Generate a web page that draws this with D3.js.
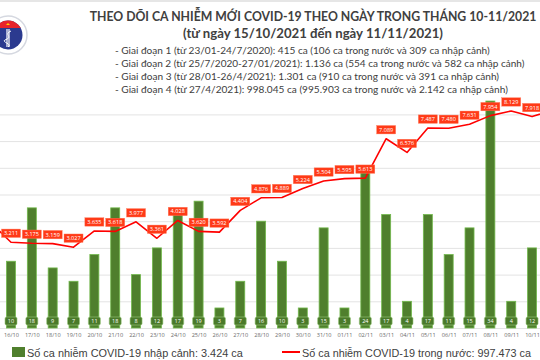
<!DOCTYPE html>
<html><head><meta charset="utf-8">
<script src="https://cdn.jsdelivr.net/npm/d3@7"></script>
<style>html,body{margin:0;padding:0;background:#fff;overflow:hidden}svg{display:block}</style>
</head><body>
<svg id="c" width="540" height="360"></svg>
<script>
const dates = ["15/10","16/10","17/10","18/10","19/10","20/10","21/10","22/10","23/10","24/10","25/10","26/10","27/10","28/10","29/10","30/10","31/10","01/11","02/11","03/11","04/11","05/11","06/11","07/11","08/11","09/11","10/11","11/11"];
const domestic = [3960,3211,3175,3159,3027,3635,3618,3977,3361,4028,3620,3592,4404,4876,4889,5224,5504,5595,5613,7089,6576,7487,7480,7631,7954,8129,7918,8162];
const imported = [null,10,18,9,7,11,18,8,12,17,19,3,7,16,10,3,15,3,24,17,4,17,11,15,34,4,12,null];
const gridValues = [0,1000,2000,3000,4000,5000,6000,7000,8000];
const titleText = "THEO DÕI CA NHIỄM MỚI COVID-19 THEO NGÀY TRONG THÁNG 10-11/2021";
const subtitleText = "(từ ngày 15/10/2021 đến ngày 11/11/2021)";
const notes = [
  "- Giai đoạn 1 (từ 23/01-24/7/2020): 415 ca (106 ca trong nước và 309 ca nhập cảnh)",
  "- Giai đoạn 2 (từ 25/7/2020-27/01/2021): 1.136 ca (554 ca trong nước và 582 ca nhập cảnh)",
  "- Giai đoạn 3 (từ 28/01-26/4/2021): 1.301 ca (910 ca trong nước và 391 ca nhập cảnh)",
  "- Giai đoạn 4 (từ 27/4/2021): 998.045 ca (995.903 ca trong nước và 2.142 ca nhập cảnh)"
];
const legendBar = "Số ca nhiễm COVID-19 nhập cảnh: 3.424 ca";
const legendLine = "Số ca nhiễm COVID-19 trong nước: 997.473 ca";

const svg = d3.select("#c");
const fmt = d3.formatLocale({decimal:",",thousands:".",grouping:[3],currency:["",""]}).format(",");

function fit(sel, target, size){
  sel.attr("font-size", size);
  const w = sel.node().getComputedTextLength();
  sel.attr("font-size", (size*target/w).toFixed(2));
  return sel;
}

const x = d3.scalePoint().domain(dates).range([-9.84, 552.9]);
const yL = d3.scaleLinear().domain([0,10000]).range([328,61]);
const yB = d3.scaleLinear().domain([0,40]).range([328,61]);

svg.append("rect").attr("x",0).attr("y",0).attr("width",540).attr("height",2).attr("fill","#e6e6e6");

const grid = svg.append("g")
  .call(d3.axisLeft(yL).tickValues(gridValues).tickSize(-560).tickFormat(""));
grid.select(".domain").remove();
grid.selectAll("line").attr("stroke","#e3e3e3").attr("stroke-width",1);

// logo
const logo = svg.append("g").attr("transform","translate(8,35)");
logo.append("circle").attr("r",19).attr("fill","#fff").attr("stroke","#d5d8e0").attr("stroke-width",1.5);
logo.append("circle").attr("r",14.5).attr("fill","#2b3a8f");
logo.append("clipPath").attr("id","lc").append("circle").attr("r",14.5);
logo.append("rect").attr("x",-15).attr("y",-15).attr("width",30).attr("height",8).attr("fill","#e8232b").attr("clip-path","url(#lc)");
logo.append("path").attr("d","M-1,-6 L-1,12 M1,-6 L1,12").attr("stroke","#fff").attr("stroke-width",1.2);
logo.append("path").attr("d","M3,-4 C-5,-1 6,2 -3,5 C-7,7 5,9 0,12").attr("fill","none").attr("stroke","#fff").attr("stroke-width",1);
logo.append("path").attr("d","M-2,-10 L0,-12 L2,-10 Z").attr("fill","#ffd200");

// titles
fit(svg.append("text").attr("x",313).attr("y",21).attr("text-anchor","middle")
  .attr("font-family","Lato, 'Open Sans', sans-serif").attr("font-weight","bold")
  .attr("fill","#404040").text(titleText), 447, 14);
fit(svg.append("text").attr("x",313).attr("y",38).attr("text-anchor","middle")
  .attr("font-family","Lato, 'Open Sans', sans-serif").attr("font-weight","bold")
  .attr("fill","#404040").text(subtitleText), 260, 14);
const noteW = [375,410,384,393];
notes.forEach((t,i)=>{
  fit(svg.append("text").attr("x",115).attr("y",54+i*13)
    .attr("font-family","Lato, 'Open Sans', sans-serif")
    .attr("fill","#404040").text(t), noteW[i], 11);
});

// bars
const bw = 9;
const bars = svg.append("g");
dates.forEach((d,i)=>{
  if (imported[i]==null) return;
  bars.append("rect").attr("x",x(d)-bw/2).attr("y",yB(imported[i])).attr("width",bw)
    .attr("height",yB(0)-yB(imported[i])).attr("fill","#4f7f2d").attr("stroke","#72b94c").attr("stroke-width",0.8);
});

// x axis labels
const xa = svg.append("g").attr("transform","translate(0,330)").call(d3.axisBottom(x).tickSize(0).tickPadding(3));
xa.select(".domain").remove();
xa.selectAll("text").attr("font-family","'Open Sans', sans-serif").attr("font-size",5.6).attr("fill","#6b6b6b");

// bar labels
dates.forEach((d,i)=>{
  if (imported[i]==null) return;
  const g = svg.append("g").attr("transform",`translate(${x(d)},321)`);
  g.append("rect").attr("x",-6).attr("y",-4).attr("width",12).attr("height",8).attr("rx",1.5)
    .attr("fill","#4a7a2a").attr("stroke","#9bc97e").attr("stroke-width",0.6);
  g.append("text").attr("y",2).attr("text-anchor","middle").attr("font-family","'Open Sans', sans-serif")
    .attr("font-size",5.5).attr("fill","#fff").text(imported[i]);
});

// line
svg.append("path").datum(domestic)
  .attr("d", d3.line().x((v,i)=>x(dates[i])).y(v=>yL(v)))
  .attr("fill","none").attr("stroke","#ff0000").attr("stroke-width",1.6).attr("stroke-linejoin","round");

// line labels
dates.forEach((d,i)=>{
  const g = svg.append("g").attr("transform",`translate(${x(d)},${yL(domestic[i])-9})`);
  g.append("rect").attr("x",-9.5).attr("y",-4.2).attr("width",19).attr("height",8.4)
    .attr("fill","#ff3a17").attr("stroke","#ff7a5c").attr("stroke-width",0.4);
  g.append("text").attr("y",2).attr("text-anchor","middle").attr("font-family","'Open Sans', sans-serif")
    .attr("font-size",5.6).attr("fill","#fff").text(fmt(domestic[i]));
});

// legend
svg.append("rect").attr("x",12).attr("y",347).attr("width",13).attr("height",10).attr("fill","#4f7f2d");
fit(svg.append("text").attr("x",27).attr("y",357).attr("font-family","'Liberation Sans', Arial, sans-serif")
  .attr("fill","#404040").text(legendBar), 216, 12.5);
svg.append("line").attr("x1",282).attr("x2",300).attr("y1",352).attr("y2",352).attr("stroke","#ff0000").attr("stroke-width",2);
fit(svg.append("text").attr("x",302).attr("y",357).attr("font-family","'Liberation Sans', Arial, sans-serif")
  .attr("fill","#404040").text(legendLine), 229, 12.5);
</script>
</body></html>
